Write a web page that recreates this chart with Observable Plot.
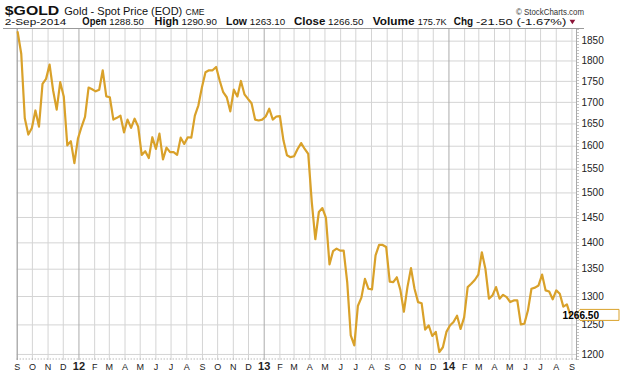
<!DOCTYPE html>
<html><head><meta charset="utf-8">
<script src="https://cdn.jsdelivr.net/npm/d3@7"></script>
<script src="https://cdn.jsdelivr.net/npm/@observablehq/plot@0.6"></script>
<style>
html,body{margin:0;padding:0;background:#fff;}
#wrap{position:relative;width:620px;height:376px;overflow:hidden;background:#fff;}
#wrap svg{display:block;}
</style></head><body><div id="wrap"></div>
<script>
// ---- data (weekly closes) ----
const firstWeek = "2011-09-02";
const closes = [
1873,1818,1663,1626,1641,1681,1644,1744,1756,1791,
1728,1683,1748,1714,1602,1611,1563,1617,1643,1666,
1735,1731,1726,1730,1777,1714,1712,1660,1664,1669,
1631,1660,1641,1662,1644,1581,1589,1574,1620,1594,
1628,1571,1597,1587,1587,1581,1619,1605,1620,1619,
1669,1693,1736,1772,1777,1777,1785,1752,1724,1712,
1679,1730,1714,1751,1719,1708,1698,1660,1658,1660,
1667,1685,1660,1667,1668,1613,1580,1576,1578,1594,
1607,1594,1583,1481,1407,1461,1469,1449,1359,1384,
1389,1385,1385,1326,1232,1215,1283,1298,1332,1314,
1313,1376,1396,1396,1392,1327,1326,1335,1312,1273,
1317,1352,1314,1290,1288,1242,1249,1231,1238,1204,
1212,1238,1249,1255,1266,1243,1263,1317,1323,1330,
1340,1382,1351,1296,1302,1317,1296,1303,1299,1290,
1293,1293,1251,1252,1275,1314,1316,1320,1340,1311,
1309,1295,1311,1305,1282,1286,1266.5
];
const lastClose = "1266.50";
const yTicks = [1200,1250,1300,1350,1400,1450,1500,1550,1600,1650,1700,1750,1800,1850];
const monthLetters = ["J","F","M","A","M","J","J","A","S","O","N","D"];
const yearNames = ["12","13","14"];
const yearNums = [2012,2013,2014];
const headerTitle = ["$GOLD","Gold - Spot Price (EOD)","CME","© StockCharts.com"];
const quoteDate = "2-Sep-2014";
const quoteKeys = ["Open","High","Low","Close","Volume","Chg"];
const quoteVals = ["1288.50","1290.90","1263.10","1266.50","175.7K","-21.50 (-1.67%)"];

// ---- build ----
const data = closes.map((v, i) => ({date: d3.utcWeek.offset(new Date(firstWeek + "T00:00:00Z"), i), close: v}));
const x0 = new Date("2011-09-01T00:00:00Z"), x1 = new Date("2014-09-10T00:00:00Z");
const months = d3.utcMonth.range(x0, x1);
const janMonths = months.filter(d => d.getUTCMonth() === 0);
const otherMonths = months.filter(d => d.getUTCMonth() !== 0);
const gold = "#d9a12a";

const wrap = document.getElementById("wrap");

// header
const head = d3.create("svg").attr("width", 620).attr("height", 29)
  .style("font-family", "'Liberation Sans', Arial, sans-serif");
function t(str, x, y, size, len, bold, fill) {
  head.append("text").attr("x", x).attr("y", y).attr("font-size", size)
    .attr("font-weight", bold ? "bold" : "normal").attr("fill", fill || "#111")
    .attr("textLength", len).attr("lengthAdjust", "spacingAndGlyphs").text(str);
}
const row1 = 14.8, row2 = 25.4;
t(headerTitle[0], 4.8, row1, 13.5, 54.5, true);
t(headerTitle[1], 64.3, row1, 10.5, 118, false);
t(headerTitle[2], 185.5, row1, 8.5, 19, false);
t(headerTitle[3], 516, row1, 9.5, 68, false, "#333");
t(quoteDate, 4.8, row2, 9.5, 61.5, false);
const keyPos = [[82.3,24.1],[154.6,24.1],[226.1,20.9],[294,31.3],[372.7,41.8],[453.8,19.3]];
const valPos = [[109.2,34.6],[181.5,35.4],[249.8,35.3],[328.1,35.4],[417.7,28.9],[475.9,90.4]];
quoteKeys.forEach((k, i) => {
  t(k, keyPos[i][0], row2, 10, keyPos[i][1], true);
  t(quoteVals[i], valPos[i][0], row2, 9.5, valPos[i][1], false);
});
head.append("path").attr("d", "M569.5,19.8 L575.3,19.8 L572.4,24.2 Z").attr("fill", "#8b1538");
head.append("line").attr("x1", 3).attr("x2", 584).attr("y1", 28.5).attr("y2", 28.5)
  .attr("stroke", "#9a9a9a").attr("stroke-width", 1);
wrap.appendChild(head.node());

// chart
const chart = Plot.plot({
  width: 620, height: 347,
  marginTop: 0, marginBottom: 16, marginLeft: 16.7, marginRight: 44,
  style: {fontFamily: "'Liberation Sans', Arial, sans-serif", fontSize: "10px", color: "#222", background: "#fff", overflow: "visible"},
  x: {type: "utc", domain: [x0, x1], label: null},
  y: {type: "log", domain: [1190, 1880], label: null},
  marks: [
    Plot.ruleY(yTicks, {stroke: "#d4d4d4", strokeWidth: 1}),
    Plot.ruleX(otherMonths, {stroke: "#d4d4d4", strokeWidth: 1}),
    Plot.ruleX(janMonths, {stroke: "#ababab", strokeWidth: 1}),
    Plot.ruleX([x0], {stroke: "#9a9a9a", strokeWidth: 1}),
    Plot.ruleX([x1], {stroke: "#ababab", strokeWidth: 1}),
    Plot.ruleX([x1], {stroke: "#888", strokeWidth: 1, strokeDasharray: "1,2", dx: 1.5}),
    Plot.ruleY([1190], {stroke: "#999", strokeWidth: 1, strokeDasharray: "1,2", dy: -1.5}),
    Plot.line(data, {x: "date", y: "close", stroke: gold, strokeWidth: 2.2, strokeLinejoin: "round"}),
    Plot.axisY(yTicks, {anchor: "right", tickSize: 0, tickPadding: 5, tickFormat: d => String(d), fontSize: 10, label: null}),
    Plot.axisX(otherMonths, {anchor: "bottom", tickSize: 0, tickPadding: 3, tickFormat: d => monthLetters[d.getUTCMonth()], fontSize: 9, label: null}),
    Plot.axisX(janMonths, {anchor: "bottom", tickSize: 0, tickPadding: 2, tickFormat: d => yearNames[yearNums.indexOf(d.getUTCFullYear())], fontSize: 11, fontWeight: "bold", label: null})
  ]
});
wrap.appendChild(chart);

// last-value tag
const yv = chart.scale("y").apply(closes[closes.length - 1]);
const xr = chart.scale("x").range[1];
const tag = d3.select(chart).append("g");
tag.append("path")
  .attr("d", `M${xr},${yv} L${xr + 4},${yv - 5.5} L619,${yv - 5.5} L619,${yv + 5.5} L${xr + 4},${yv + 5.5} Z`)
  .attr("fill", "#fff").attr("stroke", gold).attr("stroke-width", 1);
tag.append("text").attr("x", xr + 4.8).attr("y", yv + 3.8)
  .attr("font-size", 10).attr("font-weight", "bold").attr("fill", "#000")
  .attr("textLength", 36.5).attr("lengthAdjust", "spacingAndGlyphs").text(lastClose);
</script></body></html>
